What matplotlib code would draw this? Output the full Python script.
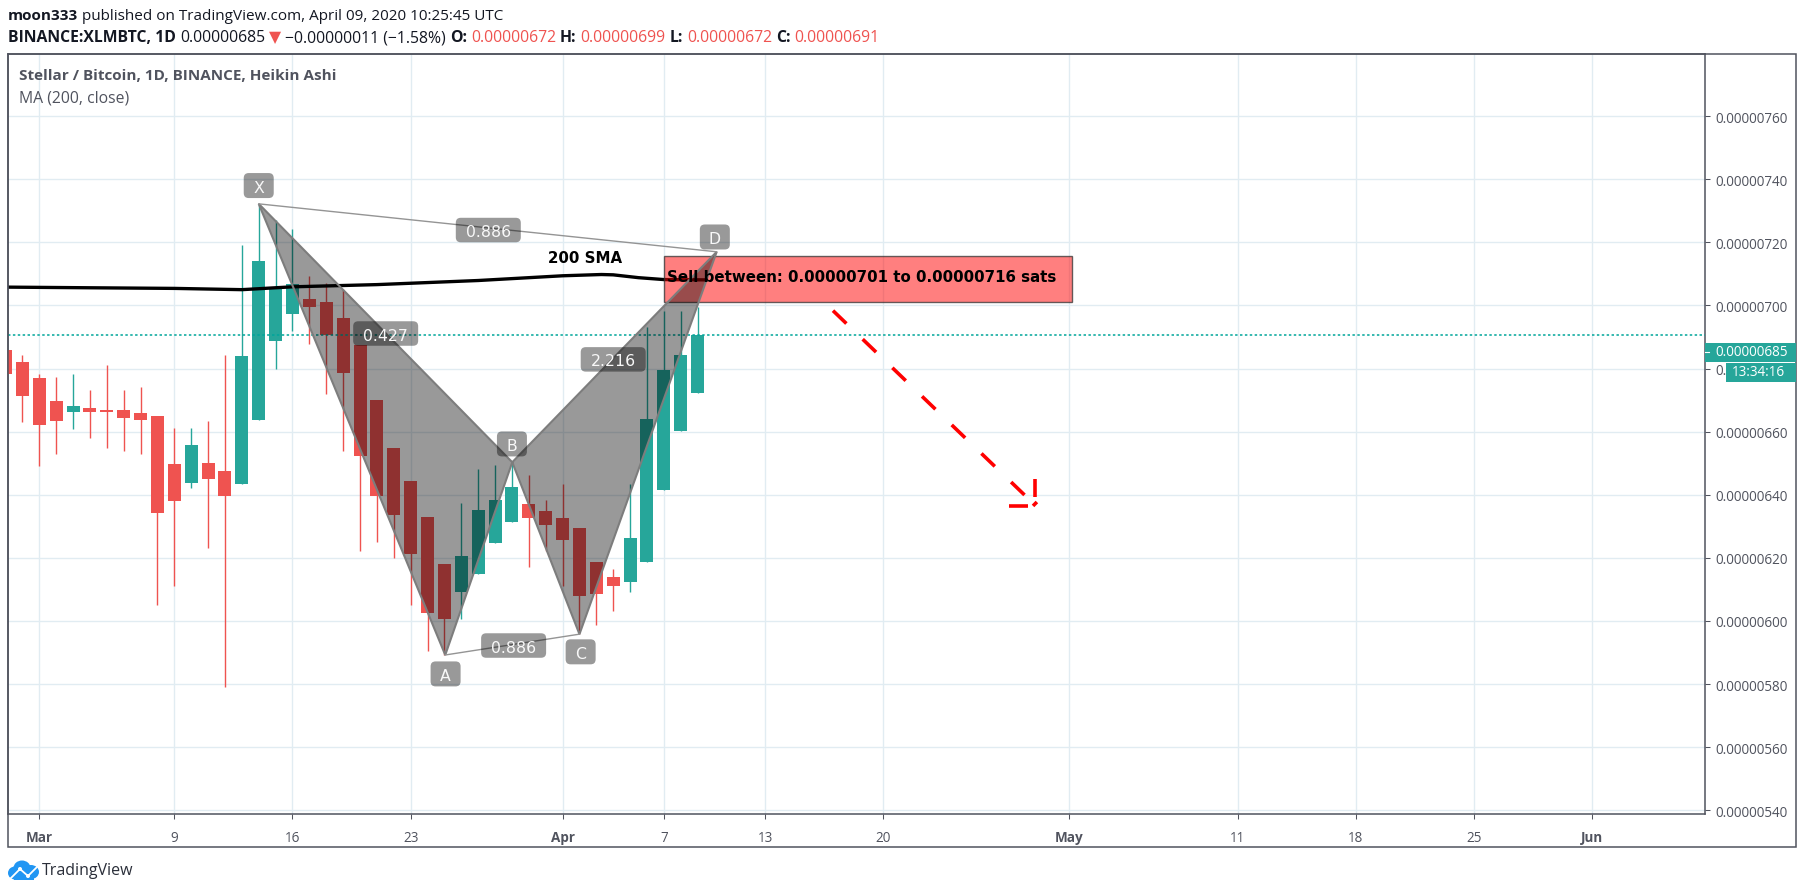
"""Stellar / Bitcoin daily Heikin Ashi chart with a harmonic pattern drawn on it."""

import matplotlib
matplotlib.use("Agg")
import matplotlib.pyplot as plt
from matplotlib.patches import Ellipse, FancyBboxPatch, Polygon, Rectangle
from matplotlib.transforms import IdentityTransform

W, H = 1805, 895

# prices are in units of 0.00000001 BTC, days count from 1 March 2020
days = list(range(-2, 40))
opens = [685.9, 682.1, 677.0, 669.7, 666.2, 667.5, 666.9, 666.9, 665.9, 665.0, 649.8, 643.7, 650.1, 647.5,
         643.4, 663.7, 688.7, 697.3, 702.1, 701.1, 696.0, 687.5, 670.0, 654.8, 644.4, 633.0, 618.0, 609.2,
         614.9, 624.8, 631.4, 637.1, 634.9, 632.7, 629.5, 618.7, 614.0, 612.4, 618.7, 641.5, 660.1, 672.1]
highs = [685.9, 684.3, 678.3, 677.3, 678.3, 673.2, 681.1, 673.2, 674.2, 665.0, 661.2, 661.2, 663.4, 684.3,
         719.2, 732.2, 727.1, 724.2, 709.4, 707.2, 705.2, 687.5, 670.0, 654.8, 644.4, 633.0, 618.0, 637.4,
         648.2, 649.5, 650.3, 646.2, 638.3, 643.4, 629.5, 618.7, 616.5, 643.4, 693.2, 698.3, 698.3, 699.5]
lows = [678.3, 663.1, 649.1, 652.9, 660.8, 658.0, 654.8, 653.9, 652.9, 605.0, 611.1, 642.1, 623.1, 579.0,
        643.4, 663.7, 679.9, 691.9, 687.8, 671.9, 653.9, 622.2, 625.1, 620.0, 605.0, 590.5, 589.2, 600.6,
        614.9, 624.8, 631.4, 617.1, 622.2, 611.1, 595.8, 598.7, 603.0, 609.2, 618.7, 641.5, 660.1, 672.1]
closes = [678.3, 671.2, 662.1, 663.4, 668.1, 666.2, 666.2, 664.3, 663.7, 634.2, 638.0, 655.8, 645.0, 639.6,
          684.0, 714.1, 705.9, 706.8, 699.5, 690.7, 678.6, 652.3, 639.6, 633.7, 621.3, 602.5, 600.6, 620.7,
          635.2, 638.3, 642.4, 632.7, 630.5, 625.8, 607.9, 608.6, 611.1, 626.4, 664.0, 679.6, 684.3, 690.7]

sma_days = [-1.84, 3, 8, 12, 15, 20, 26, 31, 33.3, 34, 35.5, 37, 39.5]
sma_values = [705.8, 705.6, 705.4, 705.0, 705.9, 706.6, 707.9, 709.4, 709.8, 709.7, 708.8, 708.2, 708.1]
last_close = 690.6

# harmonic pattern points
pattern_names = ["X", "A", "B", "C", "D"]
pattern_days = [13.0, 24.05, 28.02, 32.0, 40.13]
pattern_prices = [732.2, 589.2, 650.3, 595.8, 717.0]
name_days = [13.0, 24.07, 28.0, 32.07, 40.02]
name_prices = [738.0, 583.2, 656.1, 590.2, 721.7]
ratio_texts = ["0.886", "0.427", "0.886", "2.216"]
ratio_days = [26.6, 20.52, 28.1, 34.0]
ratio_prices = [723.9, 691.1, 592.2, 682.9]

sell_low, sell_high = 701, 715.7
sell_days = [37.0, 61.2]
arrow_days = [47.02, 58.39]
arrow_prices = [698.35, 639.8]
head_days = [[59.0, 59.0], [57.45, 58.57], [58.87, 59.1]]
head_prices = [[645.0, 639.3], [636.45, 636.45], [636.45, 637.7]]

y_ticks = [760, 740, 720, 700, 680, 660, 640, 620, 600, 580, 560, 540]
y_labels = ["0.00000%d" % v for v in y_ticks]
x_ticks = [0, 8, 15, 22, 31, 37, 43, 50, 61, 71, 78, 85, 92]
x_labels = ["Mar", "9", "16", "23", "Apr", "7", "13", "20", "May", "11", "18", "25", "Jun"]

RED = "#ef5350"
TEAL = "#26a69a"
GRID = "#e1ecf2"
AXIS = "#50535e"
LABEL = "#50535e"
UI_FONT = ["Open Sans", "DejaVu Sans"]


def px(size):
    # pixel size to points at dpi 100
    return size * 0.72


def header_runs(ax, x, y, runs, size):
    # writes coloured runs one after the other on a line
    fig = ax.figure
    renderer = fig.canvas.get_renderer()
    for text, color, weight in runs:
        t = ax.text(x, y, text, color=color, fontweight=weight, fontsize=px(size),
                    family=UI_FONT, ha="left", va="center")
        x = t.get_window_extent(renderer).x1 + 4


def draw_logo(over):
    blue = "#2196f3"
    for cx, cy, w, h in [(15, 874, 14, 13), (22, 869, 17, 15), (31, 873, 16, 14)]:
        over.add_patch(Ellipse((cx, cy), w, h, fc=blue, ec="none"))
    over.add_patch(Rectangle((14, 872), 20, 9, fc=blue, ec="none"))
    over.plot([10, 20, 28, 38], [880, 870, 877, 867], color="white", lw=1.3)
    for mx, my in [(20, 870), (28, 877)]:
        over.add_patch(Ellipse((mx, my), 4, 4, fc="white", ec="none"))
    over.text(42, 871.5, "TradingView", color="#2a2e39", fontsize=px(16), family=UI_FONT,
              ha="left", va="center")


def main():
    fig = plt.figure(figsize=(W / 100, H / 100), dpi=100, facecolor="white")

    # pixel-space layer for the page furniture
    over = fig.add_axes([0, 0, 1, 1], zorder=5)
    over.set_xlim(0, W)
    over.set_ylim(H, 0)
    over.axis("off")
    over.patch.set_alpha(0)

    left, right, top, bottom = 8.3, 1704.5, 55, 815.3
    ax = fig.add_axes([left / W, 1 - bottom / H, (right - left) / W, (bottom - top) / H], zorder=1)
    ax.set_xlim(-1.836, 98.65)
    ax.set_ylim(538.7, 779.7)

    ax.yaxis.tick_right()
    ax.set_yticks(y_ticks)
    ax.set_yticklabels(y_labels, family=UI_FONT, fontsize=px(13.5), color=LABEL)
    ax.set_xticks(x_ticks)
    ax.set_xticklabels(x_labels, family=UI_FONT, fontsize=px(13.5), color=LABEL)
    for tick, name in zip(ax.get_xticklabels(), x_labels):
        if not name.isdigit():
            tick.set_fontweight("bold")
    ax.tick_params(axis="both", length=px(5), width=0.75, color=AXIS)
    ax.tick_params(axis="x", pad=px(11))
    ax.tick_params(axis="y", pad=px(6))
    ax.grid(True, color=GRID, lw=1.0)
    ax.set_axisbelow(True)
    for side in ax.spines:
        ax.spines[side].set_color(AXIS)
        ax.spines[side].set_linewidth(1.1)

    # candles
    colors = [TEAL if c >= o else RED for o, c in zip(opens, closes)]
    ax.vlines(days, lows, highs, colors=colors, lw=1.0, zorder=2)
    bottoms = [min(o, c) for o, c in zip(opens, closes)]
    heights = [abs(c - o) for o, c in zip(opens, closes)]
    ax.bar(days, heights, bottom=bottoms, width=0.77, color=colors, zorder=3)

    ax.axhline(last_close, color="#00a59a", lw=1.1, ls=(0, (1.6, 1.6)), zorder=3)
    ax.plot(sma_days, sma_values, color="black", lw=2.4, zorder=4, solid_capstyle="butt")
    ax.text(32.36, 715.05, "200 SMA", fontsize=px(15), fontweight="bold", color="black",
            ha="center", va="center", zorder=9)

    # sell zone
    ax.add_patch(Rectangle((sell_days[0], sell_low), sell_days[1] - sell_days[0], sell_high - sell_low,
                           fc=(1, 0, 0, 0.5), ec=(0.2, 0.2, 0.2, 0.75), lw=1.0, zorder=5))
    ax.text(37.18, 709.3, "Sell between: 0.00000701 to 0.00000716 sats", fontsize=px(15),
            fontweight="bold", color="black", ha="left", va="center", zorder=9)

    # harmonic pattern
    pts = list(zip(pattern_days, pattern_prices))
    for a, b, c in [(0, 1, 2), (2, 3, 4)]:
        ax.add_patch(Polygon([pts[a], pts[b], pts[c]], closed=True, fc=(0, 0, 0, 0.4), ec="none", zorder=6))
        ax.add_patch(Polygon([pts[a], pts[b], pts[c]], closed=True, fill=False, ec="#7d7d7d", lw=1.5, zorder=6))
    for a, b in [(0, 4), (1, 3)]:
        ax.plot([pts[a][0], pts[b][0]], [pts[a][1], pts[b][1]], color="#949494", lw=1.0, zorder=6)

    def tag(day, price, text, w, h):
        cx, cy = ax.transData.transform((day, price))
        ax.add_patch(FancyBboxPatch((cx - w / 2, cy - h / 2), w, h, boxstyle="round,pad=0,rounding_size=5",
                                    transform=IdentityTransform(), fc=(0, 0, 0, 0.4), ec="none", zorder=7))
        ax.text(day, price, text, color="#f8f8f8", fontsize=px(15.8), ha="center", va="center_baseline", zorder=8)

    for name, day, price in zip(pattern_names, name_days, name_prices):
        tag(day, price, name, 30, 25)
    for text, day, price in zip(ratio_texts, ratio_days, ratio_prices):
        tag(day, price, text, 65, 24.5)

    # projected move
    arrow_style = dict(color="#ff0000", lw=px(3.6), solid_capstyle="butt", dash_capstyle="butt", zorder=5)
    plt.rcParams["lines.scale_dashes"] = False
    ax.plot(arrow_days, arrow_prices, ls=(0, (px(18.6), px(22.6))), **arrow_style)
    for hd, hp in zip(head_days, head_prices):
        ax.plot(hd, hp, **arrow_style)

    # outer frame and the right/bottom scales
    over.add_patch(Rectangle((8.3, 55), 1796 - 8.3, 848 - 55, fill=False, ec=AXIS, lw=1.1))

    # last price tags
    over.add_patch(Rectangle((1705, 344), 90.5, 18.7, fc=TEAL, ec="none"))
    over.add_patch(Rectangle((1726, 364), 69.5, 18.7, fc=TEAL, ec="none"))
    over.plot([1705, 1709], [353.3, 353.3], color="white", lw=0.8)
    over.text(1715, 352.8, "0.00000685", color="white", fontsize=px(13.5), family=UI_FONT, va="center")
    over.text(1732, 372.8, "13:34:16", color="white", fontsize=px(13.5), family=UI_FONT, va="center")

    # header lines
    fig.canvas.draw()
    ink = "#131722"
    header_runs(over, 8, 16, [("moon333", ink, "bold"),
                              ("published on TradingView.com, April 09, 2020 10:25:45 UTC", ink, "normal")], 15.2)
    header_runs(over, 8, 38, [("BINANCE:XLMBTC, 1D", ink, "bold"), ("0.00000685", ink, "normal"),
                              ("\u25bc", RED, "normal"), ("\u22120.00000011 (\u22121.58%)", ink, "normal"),
                              ("O:", ink, "bold"), ("0.00000672", RED, "normal"),
                              ("H:", ink, "bold"), ("0.00000699", RED, "normal"),
                              ("L:", ink, "bold"), ("0.00000672", RED, "normal"),
                              ("C:", ink, "bold"), ("0.00000691", RED, "normal")], 15.7)
    over.text(19, 76, "Stellar / Bitcoin, 1D, BINANCE, Heikin Ashi", color="#50535e", fontweight="bold",
              fontsize=px(15.2), family=UI_FONT, va="center")
    over.text(19, 98, "MA (200, close)", color="#50535e", fontsize=px(15.8), family=UI_FONT, va="center")

    draw_logo(over)

    fig.savefig("out.png", dpi=100, facecolor="white")


if __name__ == "__main__":
    main()
